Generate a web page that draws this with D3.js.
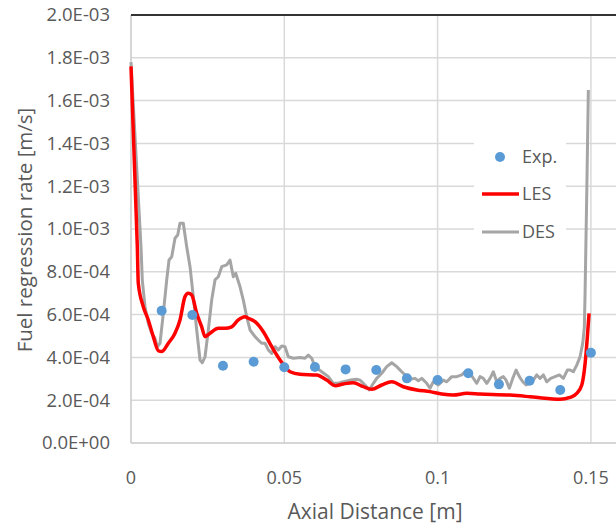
<!DOCTYPE html>
<html>
<head>
<meta charset="utf-8">
<script src="https://cdn.jsdelivr.net/npm/d3@7"></script>
<style>
    html, body { margin: 0; padding: 0; background: #fff; }
    svg { display: block; font-family: "Open Sans", "Noto Sans", sans-serif; }
</style>
</head>
<body>
<svg id="chart" width="616" height="529"></svg>
<script>
// data
const exp_x = [0.01, 0.02, 0.03, 0.04, 0.05, 0.06, 0.07, 0.08, 0.09, 0.10, 0.11, 0.12, 0.13, 0.14, 0.15];
const exp_y = [6.18e-4, 5.98e-4, 3.61e-4, 3.80e-4, 3.54e-4, 3.55e-4, 3.44e-4, 3.41e-4, 3.02e-4, 2.94e-4,
    3.26e-4, 2.74e-4, 2.91e-4, 2.48e-4, 4.22e-4];

const les_x = [0, 0.00206, 0.00238, 0.00401, 0.00564, 0.00727, 0.00891, 0.0100, 0.01217, 0.01435,
    0.01598, 0.01761, 0.01869, 0.0198, 0.02143, 0.02306, 0.02414, 0.02577, 0.02848, 0.03066,
    0.03285, 0.0350, 0.03719, 0.03827, 0.04045, 0.04316, 0.0459, 0.0486, 0.05187, 0.05513,
    0.06058, 0.06384, 0.06654, 0.06925, 0.07251, 0.07578, 0.07852, 0.08178, 0.08504, 0.08882,
    0.0932, 0.09753, 0.10135, 0.10513, 0.1095, 0.11384, 0.12363, 0.13015, 0.13668, 0.13994,
    0.1432, 0.14539, 0.14702, 0.14787, 0.14842, 0.14885, 0.1494];
const les_y = [17.6e-4, 9.17e-4, 7.46e-4, 6.37e-4, 5.75e-4, 4.97e-4, 4.31e-4, 4.27e-4, 4.66e-4, 5.13e-4,
    5.75e-4, 6.84e-4, 7.00e-4, 6.92e-4, 6.06e-4, 5.43e-4, 4.97e-4, 5.13e-4, 5.36e-4, 5.36e-4,
    5.43e-4, 5.75e-4, 5.90e-4, 5.83e-4, 5.67e-4, 5.20e-4, 4.50e-4, 3.88e-4, 3.33e-4, 3.21e-4,
    3.18e-4, 2.94e-4, 2.68e-4, 2.76e-4, 2.82e-4, 2.63e-4, 2.51e-4, 2.71e-4, 2.86e-4, 2.63e-4,
    2.48e-4, 2.40e-4, 2.29e-4, 2.24e-4, 2.32e-4, 2.29e-4, 2.24e-4, 2.16e-4, 2.07e-4, 2.04e-4,
    2.13e-4, 2.32e-4, 2.71e-4, 3.41e-4, 4.19e-4, 4.97e-4, 6.06e-4];

const des_x = [0, 0.00326, 0.00369, 0.00457, 0.00564, 0.00675, 0.00783, 0.00858, 0.00946, 0.01054,
    0.01165, 0.0124, 0.01328, 0.01435, 0.01523, 0.01598, 0.01706, 0.01817, 0.01925, 0.02032,
    0.02143, 0.02251, 0.02326, 0.02414, 0.02522, 0.02632, 0.0274, 0.02848, 0.02959, 0.03122,
    0.03229, 0.03337, 0.03415, 0.03556, 0.03663, 0.03774, 0.03882, 0.04045, 0.04153, 0.04263,
    0.04371, 0.04479, 0.0459, 0.04697, 0.04805, 0.04916, 0.05023, 0.05131, 0.05294, 0.05513,
    0.05676, 0.05784, 0.05894, 0.06002, 0.06221, 0.06436, 0.06599, 0.06762, 0.06925, 0.07144,
    0.07362, 0.0747, 0.07633, 0.07773, 0.07904, 0.08015, 0.08178, 0.08341, 0.08504, 0.08667,
    0.0883, 0.08938, 0.09101, 0.09264, 0.09372, 0.09483, 0.09646, 0.09753, 0.09861, 0.10024,
    0.10187, 0.10298, 0.10461, 0.10624, 0.10787, 0.10895, 0.11058, 0.11277, 0.11384, 0.11492,
    0.11603, 0.1171, 0.11818, 0.11929, 0.12037, 0.12144, 0.12233, 0.1234, 0.12451, 0.12559,
    0.12666, 0.12777, 0.12885, 0.12993, 0.13123, 0.13234, 0.13341, 0.13449, 0.1356, 0.1369,
    0.13831, 0.13971, 0.14102, 0.14232, 0.1432, 0.14427, 0.14539, 0.14646, 0.14734, 0.14787,
    0.1481, 0.14865, 0.14917];
const des_y = [17.8e-4, 9.17e-4, 7.60e-4, 6.37e-4, 5.60e-4, 5.13e-4, 4.89e-4, 4.50e-4, 4.66e-4, 6.06e-4,
    7.62e-4, 8.55e-4, 8.70e-4, 9.57e-4, 9.72e-4, 10.27e-4, 10.27e-4, 9.17e-4, 8.24e-4, 6.84e-4,
    5.28e-4, 3.88e-4, 3.75e-4, 4.03e-4, 5.28e-4, 6.68e-4, 7.62e-4, 7.77e-4, 8.24e-4, 8.32e-4,
    8.55e-4, 7.77e-4, 7.93e-4, 7.30e-4, 6.68e-4, 5.90e-4, 5.28e-4, 4.97e-4, 4.81e-4, 4.66e-4,
    4.66e-4, 4.35e-4, 4.19e-4, 4.50e-4, 4.35e-4, 4.53e-4, 4.50e-4, 4.03e-4, 3.96e-4, 4.00e-4,
    3.96e-4, 4.11e-4, 3.96e-4, 3.57e-4, 3.33e-4, 3.10e-4, 2.79e-4, 2.79e-4, 2.86e-4, 2.94e-4,
    2.98e-4, 2.94e-4, 2.71e-4, 2.48e-4, 2.79e-4, 3.02e-4, 3.26e-4, 3.57e-4, 3.75e-4, 3.57e-4,
    3.33e-4, 3.18e-4, 2.98e-4, 3.02e-4, 2.91e-4, 3.02e-4, 2.79e-4, 2.56e-4, 2.86e-4, 2.71e-4,
    2.94e-4, 2.86e-4, 3.10e-4, 3.10e-4, 3.18e-4, 3.33e-4, 3.26e-4, 2.79e-4, 3.10e-4, 3.02e-4,
    2.79e-4, 3.02e-4, 3.33e-4, 2.86e-4, 3.02e-4, 3.10e-4, 2.94e-4, 2.56e-4, 3.02e-4, 3.41e-4,
    3.10e-4, 2.86e-4, 2.71e-4, 2.79e-4, 2.94e-4, 3.18e-4, 3.02e-4, 3.18e-4, 2.86e-4, 3.02e-4,
    3.10e-4, 3.18e-4, 3.02e-4, 3.41e-4, 3.41e-4, 3.33e-4, 3.64e-4, 4.03e-4, 4.66e-4, 5.43e-4,
    7.00e-4, 11.67e-4, 16.5e-4];

const y_ticks = [0, 2e-4, 4e-4, 6e-4, 8e-4, 10e-4, 12e-4, 14e-4, 16e-4, 18e-4, 20e-4];
const y_tick_labels = ["0.0E+00", "2.0E-04", "4.0E-04", "6.0E-04", "8.0E-04", "1.0E-03",
    "1.2E-03", "1.4E-03", "1.6E-03", "1.8E-03", "2.0E-03"];
const x_ticks = [0, 0.05, 0.1, 0.15];
const x_tick_labels = ["0", "0.05", "0.1", "0.15"];

const legend_items = ["Exp.", "LES", "DES"];

// layout
const svg = d3.select("#chart");
const plot_left = 131, plot_top = 15, plot_bottom = 443;
const x = d3.scaleLinear().domain([0, 0.16]).range([plot_left, plot_left + 153.3 * 3.2]);
const y = d3.scaleLinear().domain([0, 0.002]).range([plot_bottom, plot_top]);
const text_color = "#595959";
const grid_color = "#d9d9d9";

// horizontal grid
svg.append("g")
    .selectAll("line")
    .data(y_ticks.slice(1, -1))
    .join("line")
    .attr("x1", plot_left).attr("x2", 616)
    .attr("y1", (d) => y(d)).attr("y2", (d) => y(d))
    .attr("stroke", grid_color)
    .attr("stroke-width", 1.5);

// vertical grid
svg.append("g")
    .selectAll("line")
    .data(x_ticks.slice(1))
    .join("line")
    .attr("x1", (d) => x(d)).attr("x2", (d) => x(d))
    .attr("y1", plot_top).attr("y2", plot_bottom)
    .attr("stroke", grid_color)
    .attr("stroke-width", 1.5);

// axes lines
svg.append("line")
    .attr("x1", plot_left).attr("x2", plot_left)
    .attr("y1", plot_top).attr("y2", plot_bottom)
    .attr("stroke", "#c8c8c8").attr("stroke-width", 1.5);
svg.append("line")
    .attr("x1", plot_left).attr("x2", 616)
    .attr("y1", plot_bottom).attr("y2", plot_bottom)
    .attr("stroke", "#c8c8c8").attr("stroke-width", 1.5);
// dark top border
svg.append("line")
    .attr("x1", plot_left).attr("x2", 616)
    .attr("y1", plot_top).attr("y2", plot_top)
    .attr("stroke", "#333").attr("stroke-width", 2);

// tick labels
svg.append("g")
    .selectAll("text")
    .data(y_ticks)
    .join("text")
    .attr("x", 110)
    .attr("y", (d) => y(d))
    .attr("dy", "0.35em")
    .attr("text-anchor", "end")
    .attr("font-size", "18.5px")
    .attr("fill", text_color)
    .text((d, i) => y_tick_labels[i]);

svg.append("g")
    .selectAll("text")
    .data(x_ticks)
    .join("text")
    .attr("x", (d) => x(d))
    .attr("y", 478)
    .attr("dy", "0.35em")
    .attr("text-anchor", "middle")
    .attr("font-size", "18px")
    .attr("fill", text_color)
    .text((d, i) => x_tick_labels[i]);

// axis titles
svg.append("text")
    .attr("x", 375)
    .attr("y", 512)
    .attr("dy", "0.35em")
    .attr("text-anchor", "middle")
    .attr("font-size", "21px")
    .attr("fill", text_color)
    .text("Axial Distance [m]");

svg.append("text")
    .attr("transform", "translate(25,230) rotate(-90)")
    .attr("dy", "0.35em")
    .attr("text-anchor", "middle")
    .attr("font-size", "20.5px")
    .attr("fill", text_color)
    .text("Fuel regression rate [m/s]");

// series
const line = d3.line().x((d) => x(d[0])).y((d) => y(d[1]));

svg.append("path")
    .datum(d3.zip(des_x, des_y))
    .attr("fill", "none")
    .attr("stroke", "#a5a5a5")
    .attr("stroke-width", 3)
    .attr("stroke-linejoin", "round")
    .attr("d", line);

svg.append("path")
    .datum(d3.zip(les_x, les_y))
    .attr("fill", "none")
    .attr("stroke", "#ff0000")
    .attr("stroke-width", 3.5)
    .attr("stroke-linejoin", "round")
    .attr("d", d3.line().x((d) => x(d[0])).y((d) => y(d[1])).curve(d3.curveMonotoneX));

svg.append("g")
    .selectAll("circle")
    .data(d3.zip(exp_x, exp_y))
    .join("circle")
    .attr("cx", (d) => x(d[0]))
    .attr("cy", (d) => y(d[1]))
    .attr("r", 5)
    .attr("fill", "#5b9bd5");

// legend
const legend = svg.append("g");
legend.append("rect")
    .attr("x", 474).attr("y", 132)
    .attr("width", 92).attr("height", 118)
    .attr("fill", "#fff");

const legend_y = [157, 194, 232];
legend.append("circle")
    .attr("cx", 500).attr("cy", legend_y[0])
    .attr("r", 5).attr("fill", "#5b9bd5");
legend.append("line")
    .attr("x1", 482).attr("x2", 519)
    .attr("y1", legend_y[1]).attr("y2", legend_y[1])
    .attr("stroke", "#ff0000").attr("stroke-width", 3.5);
legend.append("line")
    .attr("x1", 482).attr("x2", 519)
    .attr("y1", legend_y[2]).attr("y2", legend_y[2])
    .attr("stroke", "#a5a5a5").attr("stroke-width", 3);

legend.selectAll("text")
    .data(legend_items)
    .join("text")
    .attr("x", 522)
    .attr("y", (d, i) => legend_y[i])
    .attr("dy", "0.35em")
    .attr("font-size", "18px")
    .attr("fill", text_color)
    .text((d) => d);
</script>
</body>
</html>
